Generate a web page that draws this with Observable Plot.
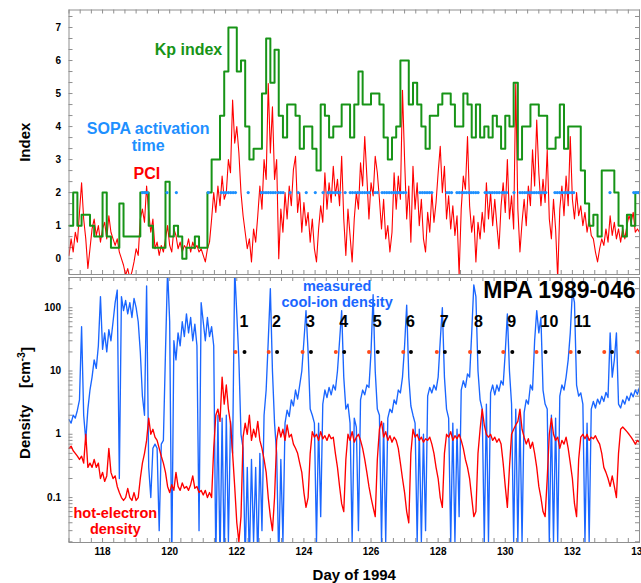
<!DOCTYPE html>
<html><head><meta charset="utf-8">
<script src="https://cdn.jsdelivr.net/npm/d3@7"></script>
<script src="https://cdn.jsdelivr.net/npm/@observablehq/plot@0.6"></script>
<style>
html,body{margin:0;padding:0;background:#fff;overflow:hidden;}
#chart{position:relative;width:641px;height:583px;}
#chart svg{position:absolute;left:0;overflow:visible;}
</style></head><body><div id="chart"></div>
<script>
// ---- data ----
// Kp index, 3-hour values starting day 117.0
const kpValues = [1,2,1,1.33,1.33,1,0.67,0.67,2,0.67,
0.33,0.33,1.67,0.67,0.67,0.67,0.67,2,2,1,
0.33,0.33,0.33,2.33,0.67,1,0.67,0,0.33,0.33,
0.67,0.33,0.33,2,3,3,4.33,5.67,7,7,
5.67,6,4,3,3.33,3.33,5,6.67,5.33,6.33,
4.33,3.67,4.67,4.67,4.33,3.33,4,4,3.33,2.67,
4.67,4.33,3.67,4,4,4.67,4.67,3.67,4.67,5.67,
4.67,4.67,5,5,4.67,3.67,3,3.67,4,6,
6,4.67,5.33,4.67,4,3.33,4.33,4.33,4.67,5,
5,4.67,4,4,5,4.67,3.67,4.67,3.67,4,
3.67,4.33,4,3.33,4.33,4,5.33,3,4,4,
4.67,4.67,4.33,4.33,3.33,3.33,3.67,4.67,3.33,4,
4,4,2.67,1.67,1,1.33,0.67,2.67,2.67,2.67,
2,1,0.67,1.33,1,2,2];
// PCI, every 1/16 day from day 117.0
const pciValues = [0.1,0.6,0.2,0.8,0.5,1.4,2.3,1.2,0.6,-0.3,0.3,
0.9,1.2,0.7,1.0,0.5,0.9,1.1,0.6,1.3,0.8,
0.6,0.4,0.6,0.2,0.0,-0.2,-0.5,-0.3,-0.6,-0.4,-0.1,0.3,0.1,1.2,1.5,1.1,2.2,1.4,0.8,1.2,
0.3,0.5,0.1,0.4,0.2,0.6,1.0,0.4,0.2,0.9,
0.7,0.3,0.5,0.2,0.4,0.3,0.6,0.2,0.5,0.3,0.4,0.2,0.3,0.1,-0.1,0.3,0.5,1.2,2.0,1.4,
2.2,1.6,2.5,1.8,2.0,3.0,2.6,4.8,3.5,4.0,
3.2,2.0,1.3,0.8,0.3,0.6,-0.1,0.9,0.5,1.3,2.2,1.5,3.0,2.4,5.3,3.2,4.6,
2.4,3.0,0.0,1.5,0.8,2.0,1.2,2.2,1.6,2.7,3.1,1.4,2.0,0.8,1.7,1.0,1.4,0.5,1.2,0.3,-0.1,0.9,1.6,1.1,2.6,1.5,2.3,1.7,2.8,1.9,2.4,1.6,3.1,1.2,0.1,1.5,0.7,
-0.1,1.2,2.0,1.5,2.9,2.2,3.7,2.5,1.2,2.3,1.9,3.1,2.6,1.8,0.9,1.8,0.6,1.0,0.2,0.8,2.6,1.5,2.5,1.8,5.1,3.0,1.2,2.2,0.5,2.8,1.5,2.3,1.0,1.8,0.6,0.2,1.4,0.8,2.0,1.1,1.7,2.6,3.4,2.0,2.8,1.2,1.9,0.9,1.6,0.7,1.3,-0.5,1.5,2.5,2.1,3.7,1.6,0.8,1.3,-0.1,1.1,0.6,1.4,0.8,2.3,1.2,2.0,1.0,
1.8,1.0,0.3,1.6,2.3,1.4,3.0,1.2,1.9,0.9,5.3,1.5,0.2,1.1,1.8,1.0,2.2,1.6,3.3,2.2,4.2,2.6,1.6,2.4,1.7,3.3,1.2,0.6,1.8,0.9,-0.6,1.5,2.2,1.3,2.5,1.6,3.7,1.8,1.2,2.0,1.3,1.6,1.0,1.4,0.8,1.2,0.7,0.6,0.2,-0.1,0.3,0.6,0.4,0.9,0.5,1.3,0.7,1.1,0.6,0.9,0.5,0.9,0.6,1.0,1.3,1.1,1.4,0.8,0.9,0.8];
// SOPA activation times (day of 1994)
const sopaDays = [119.19,119.26,119.33,119.92,120.20,121.15,
121.54,121.61,121.68,121.75,121.82,121.89,121.96,122.34,
122.73,122.80,122.87,122.94,123.01,123.08,123.15,123.24,123.31,123.38,
123.59,123.83,124.07,124.34,124.57,
124.72,124.79,124.86,124.93,125.00,125.07,125.23,125.38,125.45,
125.53,125.60,125.67,125.74,125.81,125.88,125.95,126.12,126.19,
126.33,126.40,126.47,126.54,126.61,126.68,126.75,126.82,126.89,126.96,127.03,
127.46,127.53,127.60,127.67,127.74,127.81,128.26,128.33,128.40,
128.56,128.63,128.70,128.77,128.84,128.91,128.98,129.05,129.12,129.19,
129.40,129.47,129.54,129.61,129.68,129.75,129.82,129.90,129.97,130.04,130.26,
130.44,130.51,130.58,130.65,130.72,130.79,130.86,130.93,131.00,131.07,131.14,131.21,
131.48,131.55,131.62,131.69,131.76,131.83,131.90,131.97,132.04,
133.12,133.83,133.90,133.97];
// measured cool-ion density (cm^-3), every 1/16 day from day 117.0
const coolIonDensity = [1.7,1.5,2.0,1.8,2.4,3.5,50,2.0,0.8,2.5,5,
8,15,11,25,150,22,40,20,45,30,60,120,
190,0.2,150,90,130,80,120,70,140,100,60,20,4,2.0,
220,0.3,0.1,0.6,0.7,0.6,0.03,0.7,0.8,20,400,60,0.01,
30,15,40,25,60,35,80,40,70,30,55,25,0.03,120,60,30,70,35,50,25,0.01,
2.0,0.01,1.8,0.01,2.0,0.02,1.6,0.5,400,80,15,1.0,0.6,0.01,0.3,0.01,0.4,0.02,0.3,0.01,0.5,0.03,2,5,30,200,10,1.5,0.5,
0.01,0.4,0.02,1.5,2.4,1.9,3.5,2.8,5.0,3.6,6,10,30,90,20,2.5,2.0,1.5,0.02,1.5,0.05,
3,5,3.8,5.5,4.2,6,5,10,30,90,8,2.5,3,1.5,0.02,1.8,1.3,0.03,
3.5,5,4.2,6,5.5,20,160,10,2.5,2.0,0.02,1.5,0.02,1.8,2.5,2.2,3.5,3,5,4.5,8,25,110,8,2.8,2.0,1.5,0.02,1.2,0.02,1.0,0.03,
4,5.5,4.5,6,5,8,30,100,8,2.5,1.8,0.02,1.5,0.02,1.2,0.05,5,7,5.5,9,8,40,230,150,10,3.5,2.5,0.02,3,0.02,
4.5,6,4.2,6,4.8,7,6,20,80,10,3,0.02,2.5,0.02,2,0.02,2.2,3.5,3,6,5,30,90,40,70,5,3,2.5,0.02,2,0.02,1.8,0.02,
4,6,5,8,15,40,180,120,6,4,4.5,3,0.02,1.5,0.02,2.5,3.3,2.6,3.6,3,4,3.3,4.6,3.8,40,8,15,40,3,2.6,3.5,3,4,3.4,4.5,3.9,5,4.3,5.5];
// hot-electron density (cm^-3), every 1/16 day from day 117.0
const hotElectronDensity = [0.6,0.65,0.55,0.5,0.45,0.4,0.45,0.35,1.0,0.3,0.35,0.3,0.4,0.3,0.35,0.2,0.25,0.18,0.22,0.6,0.25,
0.2,0.22,0.15,0.12,0.1,0.09,0.1,0.14,0.1,0.09,0.12,0.09,0.1,0.2,0.35,0.5,0.8,1.8,1.0,1.2,
0.9,0.8,0.6,0.45,0.35,0.25,0.15,0.12,0.16,0.13,0.25,0.15,0.13,0.17,0.14,0.15,0.13,0.16,0.22,0.14,0.15,0.12,0.13,0.11,0.13,0.1,0.12,0.1,
0.6,2.0,2.5,1.6,8,3,6,2.5,1.5,0.5,0.15,0.04,0.02,0.05,0.9,1.5,1.0,2.0,0.8,1.2,0.9,1.6,0.8,0.6,0.4,0.25,0.1,0.05,0.03,0.1,
0.8,1.3,0.9,1.2,0.8,1.4,0.9,1.0,0.7,0.6,0.5,0.35,0.25,0.12,0.07,0.1,0.5,1.1,0.9,1.0,0.8,1.1,0.85,0.95,0.8,1.0,0.85,0.9,0.5,0.3,0.15,0.08,0.06,
0.4,1.0,0.8,1.1,0.75,0.9,1.0,0.8,0.6,0.4,0.25,0.15,0.1,0.07,0.05,0.4,1.2,1.6,0.9,1.1,0.8,0.95,0.75,0.9,0.8,0.6,0.35,0.2,0.12,0.06,0.04,
0.5,1.2,0.9,1.0,0.8,0.9,0.75,0.85,0.8,0.9,0.7,0.5,0.3,0.2,0.1,0.07,0.5,1.0,0.9,1.1,0.8,0.95,0.85,1.0,0.8,0.6,0.4,0.3,0.2,0.1,0.05,0.06,
0.5,1.2,2.5,1.4,1.0,0.9,1.0,0.8,0.9,0.75,0.85,0.7,0.35,0.15,0.07,0.3,1.0,1.2,1.4,1.6,2.5,1.2,0.9,0.7,0.85,0.6,0.75,0.5,0.3,0.15,0.1,0.06,0.05,
0.2,1.0,1.8,1.0,0.8,0.9,0.6,0.8,0.7,0.9,0.6,0.35,0.2,0.08,0.05,0.4,0.9,1.0,0.85,1.0,0.8,0.9,0.85,0.95,0.8,0.7,0.5,0.3,0.25,0.2,0.15,0.22,0.15,0.1,
0.5,1.2,1.3,1.2,1.1,1.0,0.9,0.8,0.7,0.8,0.75];
// event markers
const injectionDays = [121.96,122.95,123.96,124.95,125.94,126.96,127.96,128.95,129.94,130.93,131.95,132.95,133.96];
const peakDays = [122.23,123.2,124.21,125.2,126.2,127.19,128.2,129.22,130.21,131.2,132.2,133.18];
const eventLabels = ["1","2","3","4","5","6","7","8","9","10","11"];
// tick labels
const dayTicks = [118,120,122,124,126,128,130,132,134];
const indexTicks = [0,1,2,3,4,5,6,7];
const densityTicks = [0.1,1,10,100];

// ---- tables ----
const kp = kpValues.map((v,i)=>({day:117+i/8, v}));
const pci = pciValues.map((v,i)=>({day:117+i/16, v}));
const cool = coolIonDensity.map((v,i)=>({day:117+i/16, v}));
const hot = hotElectronDensity.map((v,i)=>({day:117+i/16, v}));
const events = eventLabels.map((t,i)=>({day:peakDays[i], t}));

const fontFamily = '"Liberation Sans", Arial, Helvetica, sans-serif';
const W = 641, ML = 68.5, MR = 2;
const topH = 276, topMT = 9.5, topMB = 2;
const botH = 307, botMT = 1, botMB = 41;
const frameW = W - ML - MR, topFH = topH - topMT - topMB, botFH = botH - botMT - botMB;
const grey = "#8f8f8f", green = "#179417", blue = "#1a66ff", sopaBlue = "#1e90ff";
const xDomain = [117, 134];

const minorDays = d3.range(117, 134.001, 1/3);
const minorIndex = d3.range(-1/3, 7.5, 1/3);
const minorDensity = [];
[0.01,0.1,1,10,100].forEach(d=>{for(let k=1;k<10;k++){const v=k*d; if(v>=0.02&&v<=300) minorDensity.push(v);}});

function edgeTicks(xs, ys, FH) {
  return [
    Plot.tickX(xs, {x: d=>d, stroke: grey, insetTop: FH - 4}),
    Plot.tickX(xs, {x: d=>d, stroke: grey, insetBottom: FH - 4}),
    Plot.tickY(ys, {y: d=>d, stroke: grey, insetRight: frameW - 4}),
    Plot.tickY(ys, {y: d=>d, stroke: grey, insetLeft: frameW - 4})
  ];
}

const topPlot = Plot.plot({
  width: W, height: topH, marginLeft: ML, marginRight: MR, marginTop: topMT, marginBottom: topMB,
  style: {fontFamily, background: "transparent", overflow: "visible"},
  x: {domain: xDomain, axis: null},
  y: {domain: [-0.48, 7.53], axis: null},
  marks: [
    ...edgeTicks(minorDays, minorIndex, topFH),
    Plot.axisY(indexTicks, {anchor: "left", tickSize: 0, tickPadding: 8, fontSize: 10, fontWeight: "bold", label: null, tickFormat: d=>String(d)}),
    Plot.line(pci, {x: "day", y: "v", stroke: "#ff0000", strokeWidth: 1.1, clip: true}),
    Plot.line(kp, {x: "day", y: "v", curve: "step-after", stroke: green, strokeWidth: 2, clip: true}),
    Plot.dot(sopaDays, {x: d=>d, y: 2, r: 1.6, fill: sopaBlue, stroke: "none"}),
    Plot.text(["Kp index"], {x: 120.56, y: 6.33, text: d=>d, fill: green, fontSize: 16, fontWeight: "bold"}),
    Plot.text(["SOPA activation\ntime"], {x: 119.36, y: 3.68, text: d=>d, fill: sopaBlue, fontSize: 16, fontWeight: "bold", lineHeight: 1.05}),
    Plot.text(["PCI"], {x: 119.32, y: 2.58, text: d=>d, fill: "#ff0000", fontSize: 16, fontWeight: "bold"}),
    Plot.text(["Index"], {frameAnchor: "left", text: d=>d, rotate: -90, dx: -44, textAnchor: "middle", fontSize: 15, fontWeight: "bold"}),
    Plot.frame({stroke: grey})
  ]
});

const botPlot = Plot.plot({
  width: W, height: botH, marginLeft: ML, marginRight: MR, marginTop: botMT, marginBottom: botMB,
  style: {fontFamily, background: "transparent", overflow: "visible"},
  x: {domain: xDomain, axis: null},
  y: {type: "log", domain: [0.0195, 300], axis: null},
  marks: [
    ...edgeTicks(minorDays, minorDensity, botFH),
    Plot.axisX(dayTicks, {anchor: "bottom", tickSize: 0, tickPadding: 5, fontSize: 10, fontWeight: "bold", label: null, tickFormat: d=>String(d)}),
    Plot.axisY(densityTicks, {anchor: "left", tickSize: 0, tickPadding: 8, fontSize: 10, fontWeight: "bold", label: null, tickFormat: d=>String(d)}),
    Plot.line(cool, {x: "day", y: "v", stroke: blue, strokeWidth: 1.35, clip: true}),
    Plot.line(hot, {x: "day", y: "v", stroke: "#ff0000", strokeWidth: 1.35, clip: true}),
    Plot.dot(injectionDays, {x: d=>d, y: 20, r: 2, fill: "#ff4a1a", stroke: "none"}),
    Plot.dot(peakDays, {x: d=>d, y: 20, r: 2, fill: "black", stroke: "none"}),
    Plot.text(events, {x: "day", y: 60, text: "t", textAnchor: "start", dx: -5, fontSize: 16, fontWeight: "bold", fill: "black"}),
    Plot.text(["measured\ncool-ion density"], {x: 124.99, y: 164, text: d=>d, fill: blue, fontSize: 14.5, fontWeight: "bold", lineHeight: 1.1}),
    Plot.text(["hot-electron\ndensity"], {x: 118.38, y: 0.0424, text: d=>d, fill: "#ff0000", fontSize: 14.5, fontWeight: "bold", lineHeight: 1.1}),
    Plot.text(["MPA 1989-046"], {frameAnchor: "top-right", text: d=>d, textAnchor: "end", lineAnchor: "top", dx: -4, dy: 4, fontSize: 23, fontWeight: "bold", fill: "black"}),
    Plot.text(["Day of 1994"], {frameAnchor: "bottom", text: d=>d, lineAnchor: "middle", dy: 33, fontSize: 15, fontWeight: "bold"}),
    Plot.text(["Density [cm-3]"], {frameAnchor: "left", text: d=>d, rotate: -90, dx: -44, dy: -7, textAnchor: "middle", fontSize: 15, fontWeight: "bold"}),
    Plot.frame({stroke: grey})
  ]
});

const chart = document.getElementById("chart");
topPlot.style.top = "0px";
botPlot.style.top = topH + "px";
chart.appendChild(topPlot);
chart.appendChild(botPlot);

// superscript for the density unit
const lab = [...botPlot.querySelectorAll("text")].find(t => t.textContent === "Density [cm-3]");
if (lab) {
  lab.textContent = "";
  lab.style.whiteSpace = "pre";
  const ns = "http://www.w3.org/2000/svg";
  const a = document.createElementNS(ns, "tspan"); a.textContent = "Density    [cm";
  const b = document.createElementNS(ns, "tspan"); b.textContent = "-3"; b.setAttribute("dy", "-0.45em"); b.setAttribute("font-size", "70%");
  const c = document.createElementNS(ns, "tspan"); c.textContent = "]"; c.setAttribute("dy", "0.45em");
  lab.append(a, b, c);
}
</script></body></html>
